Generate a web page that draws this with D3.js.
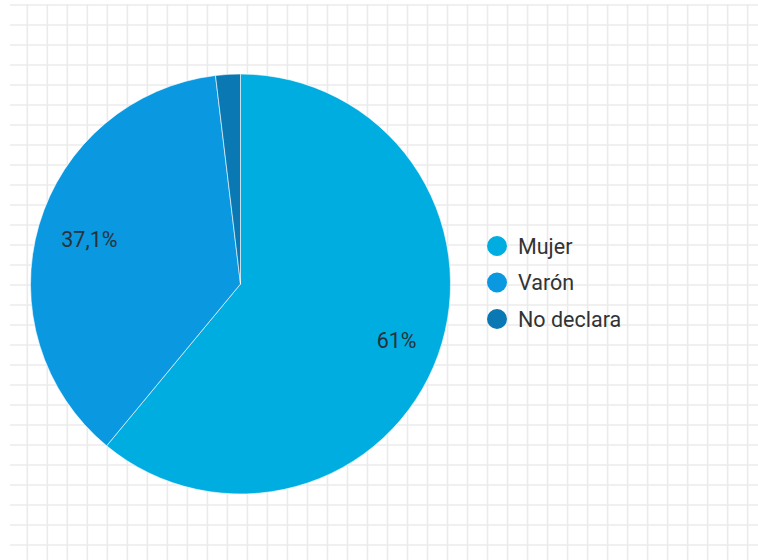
<!DOCTYPE html>
<html>
<head>
<meta charset="utf-8">
<script src="https://cdn.jsdelivr.net/npm/d3@7"></script>
<style>
  html, body { margin: 0; padding: 0; background: #fff; }
  svg { display: block; font-family: Roboto, "Noto Sans", sans-serif; }
</style>
</head>
<body>
<svg id="chart" width="758" height="560"></svg>
<script>
const categories = ["Mujer", "Varón", "No declara"];
const values = [61, 37.1, 1.9];
const labels = ["61%", "37,1%", ""];
const colors = ["#00ade0", "#0a98e1", "#0a78b3"];

const W = 758, H = 560;
const svg = d3.select("#chart");

// background grid
const grid = svg.append("g");
const xs = d3.range(27.3, W, 20.01);
const ys = d3.range(5, 550, 20);
grid.selectAll("line.v").data(xs).join("line")
  .attr("x1", d => d).attr("x2", d => d).attr("y1", 4).attr("y2", H)
  .attr("stroke", "#ebebeb").attr("stroke-width", 1.6);
grid.selectAll("line.h").data(ys).join("line")
  .attr("x1", 10).attr("x2", W).attr("y1", d => d).attr("y2", d => d)
  .attr("stroke", "#ebebeb").attr("stroke-width", 1.6);

// pie
const cx = 240.5, cy = 284, R = 210;
const data = categories.map((c, i) => ({ name: c, value: values[i], label: labels[i], color: colors[i] }));
const pie = d3.pie().value(d => d.value).sort(null);
const arcs = pie(data);
const arc = d3.arc().innerRadius(0).outerRadius(R);
const labelArc = d3.arc().innerRadius(R * 0.77).outerRadius(R * 0.77);

const g = svg.append("g").attr("transform", `translate(${cx},${cy})`);
g.selectAll("path").data(arcs).join("path")
  .attr("d", arc)
  .attr("fill", d => d.data.color)
  .attr("stroke", "#ffffff")
  .attr("stroke-width", 0.6);

g.selectAll("text").data(arcs.filter(d => d.data.label)).join("text")
  .attr("transform", d => { const c = labelArc.centroid(d); return `translate(${c[0] + 4},${c[1] + 1.5})`; })
  .attr("text-anchor", "middle")
  .attr("dominant-baseline", "central")
  .attr("font-size", 21.5)
  .attr("fill", "#263238")
  .text(d => d.data.label);

// legend
const legend = svg.append("g").attr("transform", "translate(497,246)");
const item = legend.selectAll("g").data(data).join("g")
  .attr("transform", (d, i) => `translate(0,${i * 36.5})`);
item.append("circle").attr("r", 10).attr("fill", d => d.color);
item.append("text")
  .attr("x", 21).attr("dominant-baseline", "central")
  .attr("font-size", 21.5).attr("fill", "#333")
  .text(d => d.name);
</script>
</body>
</html>
